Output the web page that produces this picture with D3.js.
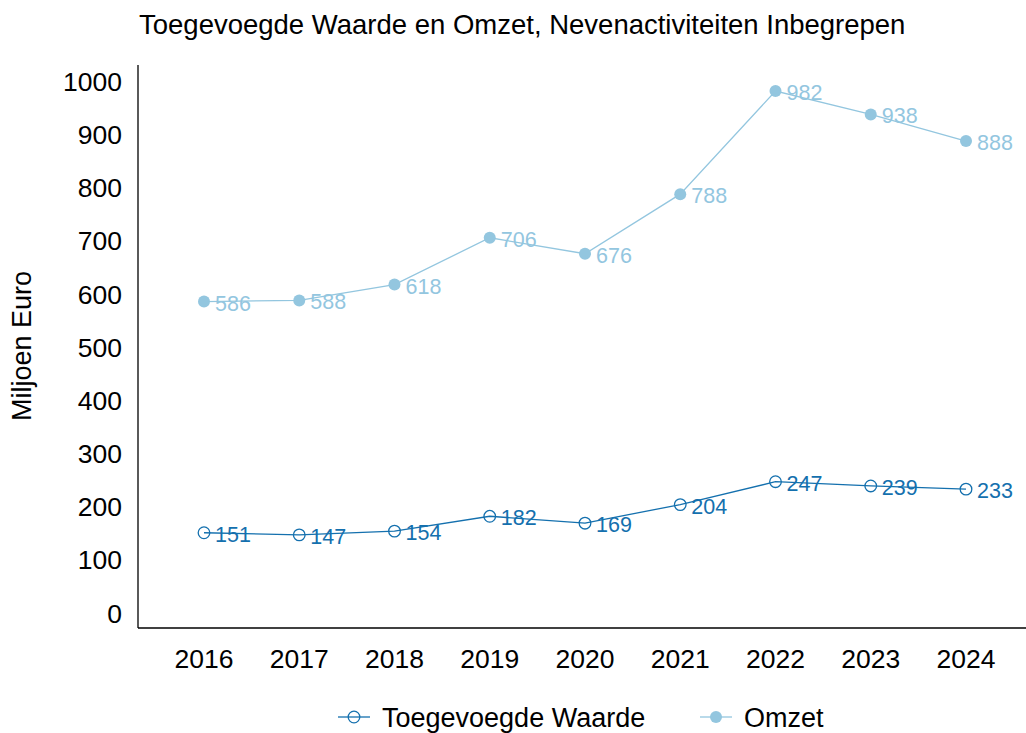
<!DOCTYPE html>
<html>
<head>
<meta charset="utf-8">
<script src="https://cdn.jsdelivr.net/npm/d3@7"></script>
<style>
body { margin: 0; background: #fff; }
text { font-family: "Liberation Sans", Arial, sans-serif; }
</style>
</head>
<body>
<div id="chart"></div>
<script>
var years = ["2016", "2017", "2018", "2019", "2020", "2021", "2022", "2023", "2024"];
var toegevoegd = [151, 147, 154, 182, 169, 204, 247, 239, 233];
var omzet = [586, 588, 618, 706, 676, 788, 982, 938, 888];
var yTicks = [0, 100, 200, 300, 400, 500, 600, 700, 800, 900, 1000];

var W = 1026, H = 733;
var plot = { left: 138, right: 1026, top: 65, bottom: 628 };

var svg = d3.select("#chart").append("svg").attr("width", W).attr("height", H);

var x = d3.scalePoint().domain(years).range([204, 966]);
var y = d3.scaleLinear().domain([-28.2, 1031]).range([plot.bottom, plot.top]);

var darkBlue = "#1470ae";
var lightBlue = "#93c6df";

// axes
svg.append("line").attr("x1", plot.left).attr("x2", plot.left).attr("y1", plot.top).attr("y2", plot.bottom)
    .attr("stroke", "#000").attr("stroke-width", 1.3);
svg.append("line").attr("x1", plot.left).attr("x2", plot.right).attr("y1", plot.bottom).attr("y2", plot.bottom)
    .attr("stroke", "#000").attr("stroke-width", 1.3);

svg.append("g").selectAll("text").data(yTicks).enter().append("text")
    .attr("x", 122).attr("y", d => y(d)).attr("dy", "0.36em")
    .attr("text-anchor", "end").attr("font-size", 26.5).text(d => d);

svg.append("g").selectAll("text").data(years).enter().append("text")
    .attr("x", d => x(d)).attr("y", 668)
    .attr("text-anchor", "middle").attr("font-size", 26.5).text(d => d);

// title and axis label
svg.append("text").attr("x", 139).attr("y", 34).attr("font-size", 27.5)
    .text("Toegevoegde Waarde en Omzet, Nevenactiviteiten Inbegrepen");
svg.append("text").attr("transform", "translate(31,346) rotate(-90)")
    .attr("text-anchor", "middle").attr("font-size", 27).text("Miljoen Euro");

var line = d3.line().x((d, i) => x(years[i])).y(d => y(d));

function drawSeries(vals, color, filled) {
    var g = svg.append("g");
    g.append("path").datum(vals).attr("d", line).attr("fill", "none")
        .attr("stroke", color).attr("stroke-width", 1.3);
    g.selectAll("circle").data(vals).enter().append("circle")
        .attr("cx", (d, i) => x(years[i])).attr("cy", d => y(d))
        .attr("r", filled ? 6 : 5.8)
        .attr("fill", filled ? color : "none")
        .attr("stroke", color).attr("stroke-width", filled ? 0 : 1.3);
    g.selectAll("text").data(vals).enter().append("text")
        .attr("x", (d, i) => x(years[i]) + 11).attr("y", d => y(d) + 9)
        .attr("font-size", 21.5).attr("fill", color).text(d => d);
}

drawSeries(omzet, lightBlue, true);
drawSeries(toegevoegd, darkBlue, false);

// legend
var legend = [
    { name: "Toegevoegde Waarde", color: darkBlue, filled: false, x: 338 },
    { name: "Omzet", color: lightBlue, filled: true, x: 700 }
];
var lg = svg.append("g").selectAll("g").data(legend).enter().append("g")
    .attr("transform", d => "translate(" + d.x + ",717)");
lg.append("line").attr("x1", 0).attr("x2", 32).attr("stroke", d => d.color).attr("stroke-width", 1.3);
lg.append("circle").attr("cx", 16).attr("r", d => d.filled ? 6 : 5.8)
    .attr("fill", d => d.filled ? d.color : "none")
    .attr("stroke", d => d.color).attr("stroke-width", d => d.filled ? 0 : 1.3);
lg.append("text").attr("x", 44).attr("dy", "0.36em").attr("font-size", 27).text(d => d.name);
</script>
</body>
</html>
